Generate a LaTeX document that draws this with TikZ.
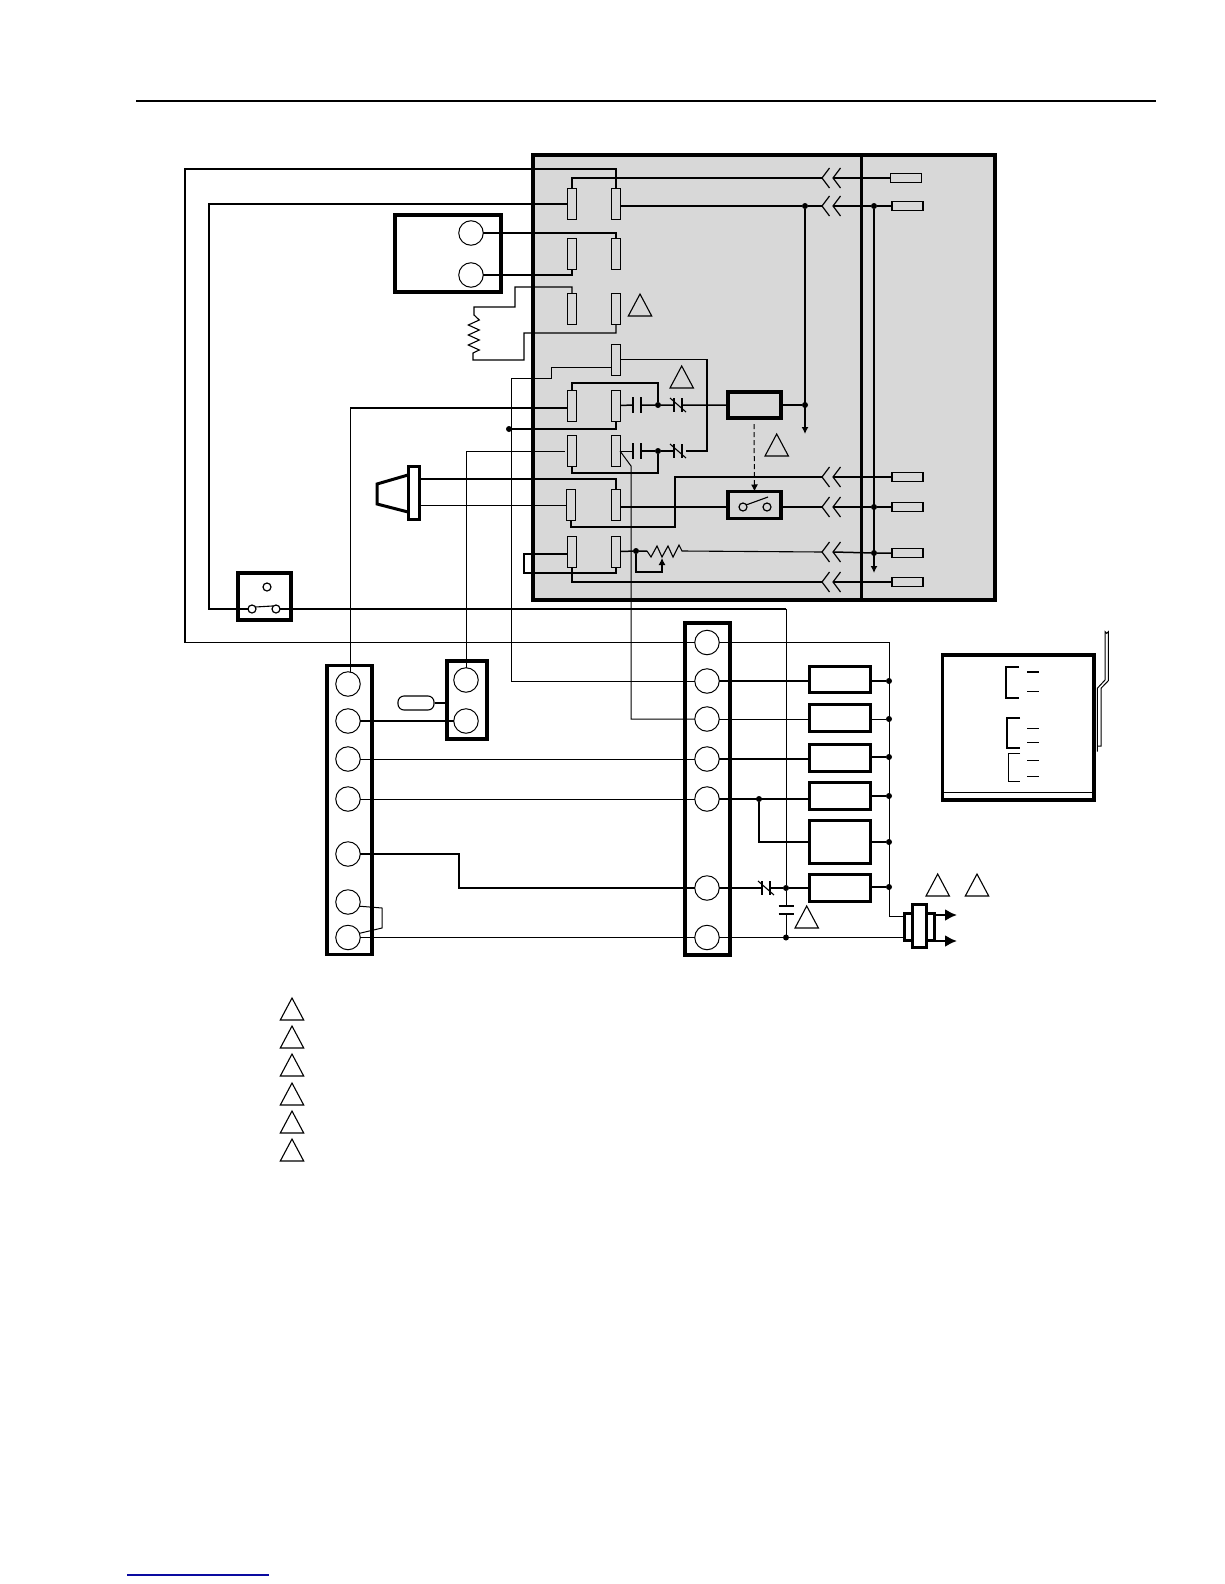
\documentclass[tikz,border=0pt]{standalone}
\usepackage{tikz}
\usetikzlibrary{arrows,arrows.meta}
\definecolor{panelgray}{HTML}{D8D8D8}
\definecolor{linkblue}{HTML}{0A0AA0}
\tikzset{
	fine wire/.style={line width=1pt},
	heavy wire/.style={line width=1.5pt},
	frame/.style={draw,line width=3.8pt,rectangle,inner sep=0pt,outer sep=0pt},
	tab/.style={draw,line width=1pt,fill=panelgray,rectangle,inner sep=0pt,outer sep=0pt,minimum width=8.5pt,minimum height=31pt},
	fuse/.style={draw,line width=1.1pt,fill=panelgray,rectangle,inner sep=0pt,outer sep=0pt,minimum width=31pt,minimum height=9pt},
	post/.style={draw,line width=1pt,circle,inner sep=0pt,outer sep=0pt,minimum size=24.5pt},
	eye/.style={draw,line width=1.2pt,circle,inner sep=0pt,outer sep=0pt,minimum size=8pt},
	dot/.style={fill=black,circle,inner sep=0pt,outer sep=0pt,minimum size=6pt},
	load/.style={frame,line width=3.2pt,minimum width=61pt,minimum height=27pt},
	notemark/.style={line width=1.1pt,line join=miter},
	stub/.style={-{Latex[length=7pt,width=7pt]}}
}
% contact symbols, used in the wire runs
\newcommand{\ncmark}[2]{
	\draw[line width=1.1pt] (#1-4,#2-7) -- (#1-4,#2+7) (#1+4,#2-7) -- (#1+4,#2+7);
	\draw[line width=1.1pt] (#1-8,#2-7) -- (#1+8,#2+7);
}
\newcommand{\capmark}[2]{
	\draw[line width=1.1pt] (#1-4,#2-8) -- (#1-4,#2+8) (#1+4,#2-8) -- (#1+4,#2+8);
}
\begin{document}
\begin{tikzpicture}[x=1pt,y=-1pt,>=latex]
	\useasboundingbox (0,0) rectangle (1224,1584);

	% the page rule and the link underline
	\draw[line width=2pt] (136,100.7) -- (1156,100.7);
	\draw[line width=1.1pt,linkblue] (127,1575) -- (269,1575);

	% the gray panel
	\node[frame,fill=panelgray,minimum width=462pt,minimum height=445pt] (panel) at (764,377.5) {};
	\draw[line width=3pt] (861,155) -- (861,600);

	% the connector tabs
	\foreach \n/\x/\y in {l1/572/204,r1/616/204,l2/572/253.5,r2/616/253.5,l3/572/308.5,r3/616/308.5,
		r4/616/359.5,l5/572/405.5,r5/616/405.5,l6/572/450.5,r6/616/450.5,l7/571/504.5,r7/616/504.5,
		l8/572/551.5,r8/616/551.5}
		\node[tab] (\n) at (\x,\y) {};

	% the fuses and the plug-in blades
	\foreach \n/\x/\y in {f1/906/178,f2/907.5/206,f3/907.5/477,f4/907.5/507,f5/907.5/553,f6/907.5/582}
		\node[fuse] (\n) at (\x,\y) {};
	\foreach \n/\y in {c1/178,c2/206,c3/477,c4/507,c5/552,c6/582}{
		\coordinate (\n) at (822,\y);
		\coordinate (\n r) at (833,\y);
		\draw[line width=1.2pt] (829.5,\y-10) -- (822,\y) -- (829.5,\y+10);
		\draw[line width=1.2pt] (840.5,\y-10) -- (833,\y) -- (840.5,\y+10);
	}

	% the boxes
	\node[frame,minimum width=106.5pt,minimum height=77.5pt] (relay) at (448,253.5) {};
	\node[frame,minimum width=53.5pt,minimum height=47.5pt] (lowsw) at (264.5,596.5) {};
	\node[frame,minimum width=53.5pt,minimum height=26.5pt] (coil) at (754.5,405) {};
	\node[frame,minimum width=53.5pt,minimum height=27pt] (cutout) at (754.5,505) {};
	\node[frame,minimum width=45.6pt,minimum height=289pt] (stripa) at (349.5,810) {};
	\node[frame,minimum width=40.6pt,minimum height=78.6pt] (stripb) at (467,700) {};
	\node[frame,minimum width=45.6pt,minimum height=332.6pt] (stript) at (707.5,789) {};
	\node[frame,minimum width=151.5pt,minimum height=145.5pt] (side) at (1018.2,727.5) {};
	\foreach \n/\y/\h in {w1/679.5/26,w2/718/27,w3/758/27,w4/796/27,w5/842/43,w6/888/27}
		\node[load,minimum height=\h pt] (\n) at (840,\y) {};

	% the terminal posts
	\node[post] (p1) at (471,233) {};
	\node[post] (p2) at (471,275) {};
	\foreach \n/\y in {a1/684,a2/721,a3/759,a4/799,a5/854,a6/902,a7/937.5}
		\node[post] (\n) at (348,\y) {};
	\node[post] (b1) at (466,680) {};
	\node[post] (b2) at (466,721) {};
	\foreach \n/\y in {t1/642.5,t2/681,t3/719,t4/759,t5/799,t6/888,t7/937.5}
		\node[post] (\n) at (707,\y) {};

	% the dots
	\foreach \n/\x/\y in {d1/805/206,d2/874/206,d3/805/405,d4/658/405,d5/658/451,d6/509/429,d7/874/507,
		d8/874/553,d9/636/551,d10/759/799,d11/786/888,d12/786/937.5}
		\node[dot] (\n) at (\x,\y) {};
	\foreach \n/\y in {j1/681,j2/719,j3/757,j4/796,j5/842,j6/887}
		\node[dot] (\n) at (889,\y) {};

	% the long loops round the panel
	\draw[heavy wire] (t1.west) -| (185,169) -| (r1.north);
	\node[eye] (s1) at (252,609) {};
	\node[eye] (s2) at (276,609) {};
	\node[eye] (s3) at (267,587) {};
	\coordinate (kn) at (786,609);
	\draw[heavy wire] (l1.west) -| (209,609) -- (s1);
	\draw[heavy wire] (s2) -- (kn);
	\draw[fine wire] (kn) -- (d11);
	\draw[line width=1.1pt] (s1.30) -- (s2.130);

	% the first rows
	\draw[heavy wire] (l1.north) |- (c1) (c1r) -- (f1.west);
	\draw[heavy wire] (r1.east |- d1) -- (d1) -- (c2) (c2r) -- (d2) -- (f2.west);
	\draw[heavy wire] (p1) -| (r2.north);
	\draw[heavy wire] (p2) -| (l2.south);
	\draw[heavy wire,stub] (d1) -- (805,434);
	\draw[heavy wire,stub] (d2) -- (874,573);

	% the heater element
	\draw[line width=1.1pt] (l3.north) |- (515,287) -- (515,307) -- (474,307) -- (474,315)
		-- (479.3,320) -- (468.3,325) -- (479.3,330) -- (468.3,335) -- (479.3,340) -- (468.3,345) -- (479.3,350)
		-- (473,353) -- (473,360) -- (524,360) -- (524,333) -| (r3.south);

	% the contact rows
	\draw[heavy wire] (r4.east) -| (707,451) -- (686,451);
	\draw[fine wire] (r4.west |- 0,367) -| (551,378) -| (511,681) -- (t2.west);
	\draw[heavy wire] (l5.north) |- (658,383) -- (d4);
	\draw[heavy wire] (r5.east) -- (633,405) (641,405) -- (d4) -- (674,405) (682,405) -- (coil.west);
	\capmark{637}{405}
	\ncmark{678}{405}
	\draw[heavy wire] (coil.east) -- (d3);
	\coordinate (ka) at (350,408);
	\draw[fine wire] (ka) -- (350,672);
	\draw[heavy wire] (ka) -- (l5.west |- ka);
	\draw[heavy wire] (r5.south) |- (d6);
	\draw[fine wire] (r6.east |- d5) -- (633,451);
	\draw[heavy wire] (641,451) -- (d5) -- (674,451);
	\capmark{637}{451}
	\ncmark{678}{451}
	\draw[heavy wire] (l6.south) |- (658,473) -- (d5);
	\draw[fine wire] (620,451) -- (631,466) -- (631,719) -- (t3.west);
	\draw[fine wire] (b1.north) |- (565,451.7);

	% the horn
	\node[frame,line width=3pt,minimum width=11pt,minimum height=53pt] (horn) at (414,493) {};
	\draw[line width=3pt,line join=miter] (408,475) -- (377,484) -- (377,504) -- (408,512);
	\draw[heavy wire] (horn.east |- 0,479) -| (r7.north);
	\draw[fine wire] (horn.east |- 0,505) -- (l7.west |- 0,505);

	% the limit switch row
	\draw[heavy wire] (l7.south) |- (675,527) |- (c3) (c3r) -- (f3.west);
	\node[eye] (s4) at (743,507) {};
	\node[eye] (s5) at (767,507) {};
	\draw[line width=1.1pt] (746,505) -- (768,497);
	\draw[heavy wire] (r7.east |- s4) -- (cutout.west |- s4);
	\draw[heavy wire] (cutout.east |- s5) -- (c4) (c4r) -- (d7) -- (f4.west);
	\coordinate (lk) at (754,424);
	\draw[fine wire,dash pattern=on 5pt off 3pt,stub] (lk) -- (cutout.north);

	% the thermostat row
	\draw[heavy wire] (l8.west |- 0,554) -| (524,573) -| (r8.south);
	\draw[heavy wire] (r8.east) -- (d9) -- (647,551);
	\draw[line width=1.1pt] (647,551) -- (651,557) -- (657,546) -- (662,557) -- (668,546) -- (673,557) -- (679,545) -- (682,551) -- (c5);
	\draw[line width=1.1pt,stub] (d9) |- (662,572) -- (662,558);
	\draw[heavy wire] (c5r) -- (d8) -- (f5.west);
	\draw[heavy wire] (l8.south) |- (c6) (c6r) -- (f6.west);

	% the field wiring
	\draw[heavy wire] (a2) -- (b2);
	\node[draw,line width=1.1pt,rounded corners=6pt,inner sep=0pt,minimum width=36pt,minimum height=14pt] (sensor) at (416,703) {};
	\draw[heavy wire] (sensor) -- (stripb.west |- sensor);
	\draw[fine wire] (a3) -- (t4);
	\draw[fine wire] (a4) -- (t5);
	\draw[heavy wire] (a5) -| (459,888) -- (t6);
	\draw[line width=1pt] (a6.-20) -- (382,908) -- (382,928) -- (a7.20);
	\draw[fine wire] (a7) -- (t7);

	% the loads on the right
	\draw[fine wire] (t1) -| (889,916) -- (903,916);
	\draw[heavy wire] (t2) -- (w1.west |- t2);
	\draw[fine wire] (t3) -- (w2.west |- t3);
	\draw[heavy wire] (t4) -- (w3.west |- t4);
	\draw[heavy wire] (t5) -- (w4.west |- t5);
	\draw[heavy wire] (d10) |- (w5.west);
	\draw[heavy wire] (t6) -- (762,888) (770,888) -- (d11) -- (w6.west);
	\ncmark{766}{888}
	\draw[fine wire] (d11) -- (786,906) (786,914) -- (d12);
	\draw[line width=1.3pt] (778.5,906) -- (793.5,906) (778.5,914) -- (793.5,914);
	\draw[fine wire] (t7) -- (d12) -- (903,937.5);
	\draw[heavy wire] (w1.east |- j1) -- (j1);
	\draw[fine wire] (w2.east |- j2) -- (j2);
	\foreach \i in {3,4,5,6}
		\draw[heavy wire] (w\i.east |- j\i) -- (j\i);

	% the plug
	\node[frame,line width=3pt,fill=white,minimum width=30pt,minimum height=27pt] (plugw) at (919,927) {};
	\node[frame,line width=3pt,fill=white,minimum width=14pt,minimum height=43pt] (plugc) at (919,926) {};
	\coordinate (out1) at (957,915);
	\coordinate (out2) at (957,941);
	\draw[line width=2.2pt,-{Latex[length=12pt,width=12pt]}] (plugw.east |- out1) -- (out1);
	\draw[line width=2.2pt,-{Latex[length=12pt,width=12pt]}] (plugw.east |- out2) -- (out2);

	% the side panel and its handle
	\draw[fine wire] (942.7,792) -- (1093.3,792);
	\draw[heavy wire] (1019,667) -| (1006,698) -- (1019,698);
	\draw[heavy wire] (1020,718) -| (1007,748) -- (1020,748);
	\draw[line width=1pt] (1020,753) -| (1008,781) -- (1020,781);
	\foreach \y/\w in {672/1.5,691/1,728/1,742/1,760/1,776/1}
		\draw[line width=\w pt] (1027,\y) -- (1039,\y);
	\draw[line width=1pt,fill=white] (1097.3,751.7) -- (1097.3,688.3) -- (1105,680) -- (1105,631.7)
		arc[start angle=180,end angle=0,radius=1.65] -- (1108.3,680.7) -- (1101,688.3) -- (1101,746) -- (1097.3,746);

	% the note marks
	\foreach \x/\y in {640/294,681.7/366,776.7/434,937.7/874,977/874,806.7/906,
		292/998,292/1026,292/1054,292/1083,292/1111,292/1139}
		\draw[notemark] (\x,\y) -- ++(-11.7,22) -- ++(23.4,0) -- cycle;
\end{tikzpicture}
\end{document}
